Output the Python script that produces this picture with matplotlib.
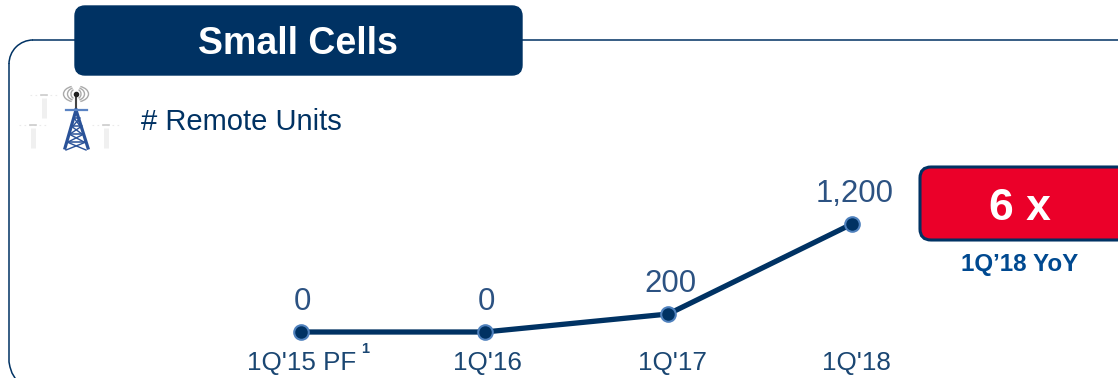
import matplotlib
matplotlib.use('Agg')
import matplotlib.pyplot as plt
from matplotlib.patches import FancyBboxPatch, Arc
from matplotlib.transforms import ScaledTranslation

quarters = ["1Q'15 PF", "1Q'16", "1Q'17", "1Q'18"]
remote_units = [0, 0, 200, 1200]
value_labels = ['0', '0', '200', '1,200']

W, H = 1118, 378
NAVY = '#003263'
MID_BLUE = '#4F81BD'
RED = '#EB0029'
VALUE_BLUE = '#2C5282'
TICK_BLUE = '#1A4672'

plt.rcParams['font.family'] = ['Liberation Sans', 'DejaVu Sans']

fig = plt.figure(figsize=(W / 100, H / 100), dpi=100, facecolor='white')

# overlay in pixel coordinates for panel, header and icon
bg = fig.add_axes([0, 0, 1, 1])
bg.set_xlim(0, W)
bg.set_ylim(H, 0)
bg.axis('off')

# panel outline, left open at the edges of the figure
r = 24
bg.add_patch(Arc((9 + r, 40 + r), 2 * r, 2 * r, theta1=180, theta2=270, color=NAVY, lw=1.1))
bg.plot([9, 9, 10, 12, 15], [40 + r, 362, 367, 373, 378], color=NAVY, lw=1.1)
bg.plot([9 + r, 80], [40, 40], color=NAVY, lw=1.1)
bg.plot([515, W], [40, 40], color=NAVY, lw=1.1)

# header
bg.add_patch(FancyBboxPatch((82, 13), 433, 55, boxstyle='round,pad=7,rounding_size=10',
                            fc=NAVY, ec=NAVY, lw=1))
bg.text(298, 44, 'Small Cells', color='white', fontsize=27, fontweight='bold',
        ha='center', va='center')

bg.text(141, 121.5, '# Remote Units', color=NAVY, fontsize=21, ha='left', va='center')


def small_mast(x, y):
    # faint remote unit next to the tower
    bg.plot([x, x], [y, y + 20], color='#F0F0F0', lw=3.6, solid_capstyle='butt')
    bg.plot([x - 14, x + 14], [y - 3, y - 3], color='#EAEAEA', lw=0.8, ls=(0, (1.5, 3)))
    bg.plot([x - 3, x + 3], [y - 3, y - 3], color='#CCCCCC', lw=1.2)


small_mast(44, 98)
small_mast(33, 128)
small_mast(106, 128)

# tower icon
tower = '#2A5298'
bg.plot([76, 76], [94, 110], color='#444444', lw=1.5)
bg.plot([76], [94], 'o', color='#222222', ms=3)
for w, h in ((10, 10), (17, 13), (25, 16)):
    bg.add_patch(Arc((76, 94), w, h, theta1=120, theta2=240, color='#AAAAAA', lw=1.0))
    bg.add_patch(Arc((76, 94), w, h, theta1=-60, theta2=60, color='#AAAAAA', lw=1.0))
bg.plot([76, 65], [110, 148], color=tower, lw=2.3)
bg.plot([76, 88], [110, 148], color=tower, lw=2.3)
bg.plot([66, 87], [110, 110], color='#5B84C4', lw=1.6)
levels = [(118, 74, 79), (126, 71, 81), (134, 69, 83), (142, 67, 85)]
for y0, x0, x1 in levels:
    bg.plot([x0, x1], [y0, y0], color=tower, lw=1.1)
    bg.plot([x0 - 1, x1 + 1], [y0 + 8, y0], color=tower, lw=1.0)
    bg.plot([x0, x1 + 1], [y0, y0 + 8], color=tower, lw=1.0)

# growth callout
bg.add_patch(FancyBboxPatch((929, 176), 190, 55, boxstyle='round,pad=9,rounding_size=11',
                            fc=RED, ec=NAVY, lw=2.2, clip_on=False))
bg.text(1019.5, 209, '6 x', color='white', fontsize=32, fontweight='bold', ha='center', va='center')
bg.text(1019.5, 265, '1Q\u201918 YoY', color='#004990', fontsize=17.4, fontweight='bold',
        ha='center', va='center')

# line chart placed so the data axes span the four quarters
ax = fig.add_axes([301 / W, (H - 332) / H, (852 - 301) / W, 108 / H])
ax.patch.set_alpha(0)
ax.set_xlim(0, 3)
ax.set_ylim(0, 1200)
for s in ax.spines.values():
    s.set_visible(False)
ax.plot(range(len(quarters)), remote_units, color=NAVY, lw=3.8, solid_capstyle='round',
        marker='o', ms=10.5, mfc=NAVY, mec=MID_BLUE, mew=1.5, clip_on=False, zorder=3)
ax.set_yticks([])
ax.set_xticks(range(len(quarters)))
ax.set_xticklabels(quarters, fontsize=18.7, color=TICK_BLUE)
ax.tick_params(axis='x', length=0, pad=14)

# labels sit slightly right of their points, more so further along the axis
tick_shift = [1, 3, 4, 4]
label_shift = [1, 2, 2, 3]
for lbl, dx in zip(ax.get_xticklabels(), tick_shift):
    lbl.set_transform(lbl.get_transform() + ScaledTranslation(dx / 100, 0, fig.dpi_scale_trans))

for i, (val, lab) in enumerate(zip(remote_units, value_labels)):
    ax.annotate(lab, (i, val), xytext=(label_shift[i], 15), textcoords='offset pixels',
                ha='center', va='bottom', fontsize=22.4, color=VALUE_BLUE)

# footnote marker on the first quarter
bg.text(365, 349, '1', color=TICK_BLUE, fontsize=10.5, fontweight='bold', ha='center', va='center')

fig.savefig('out.png', dpi=100)
